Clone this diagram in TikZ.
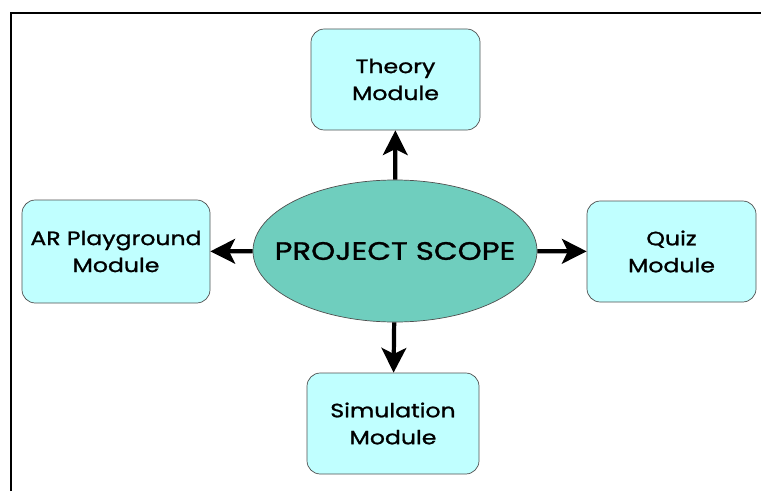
\documentclass[tikz,border=0pt]{standalone}
\usepackage{fontspec}
\setmainfont{Poppins}[FakeStretch = 1.22, FakeBold = 1.2]
\usetikzlibrary{arrows.meta,shapes.geometric}
\definecolor{modfill}{HTML}{C0FFFF}
\definecolor{scopefill}{HTML}{6FCEBE}
\definecolor{rand}{HTML}{505050}
\tikzset{
  modul/.style = {draw = rand, fill = modfill, rounded corners = 0.4cm, line width = 0.6pt,
    align = center, font = \fontsize{16.5}{23}\selectfont,
    minimum width = 5.07cm, minimum height = 3.03cm, inner sep = 0pt},
  pfeil/.style = {line width = 3.6pt, -{Stealth[length = 7.4mm, width = 7.4mm, inset = 1.8mm]}}
}
\begin{document}
\begin{tikzpicture}[color = {black},x = 0.03cm,y = 0.03cm]
\useasboundingbox (0,0) rectangle (761,491);
%%Rahmen
\draw[line width = 1.7pt] (11,0) -- (11,478) -- (761,478);
%%Mitte (Text ohne Breite, damit die Ellipse nicht waechst)
\node[ellipse, draw = rand, fill = scopefill, line width = 0.6pt, inner sep = 0pt, minimum width = 8.52cm,
  minimum height = 4.26cm, font = \fontsize{21.5}{25}\selectfont] (scope) at (395,240) {\makebox[0pt]{PROJECT SCOPE}};
%%Module
\node[modul] (theory) at (395.5,411.5) {Theory\\Module};
\node[modul, minimum width = 5.64cm, minimum height = 3.09cm] (ar) at (116,239.5) {AR Playground\\Module};
\node[modul] (quiz) at (671.5,239.5) {Quiz\\Module};
\node[modul, minimum width = 5.16cm] (sim) at (393,67.5) {Simulation\\Module};
%%Pfeile
\draw[pfeil] (scope) -- (theory);
\draw[pfeil] (scope) -- (ar);
\draw[pfeil] (scope) -- (quiz);
\draw[pfeil] (scope) -- (sim);
\end{tikzpicture}
\end{document}
